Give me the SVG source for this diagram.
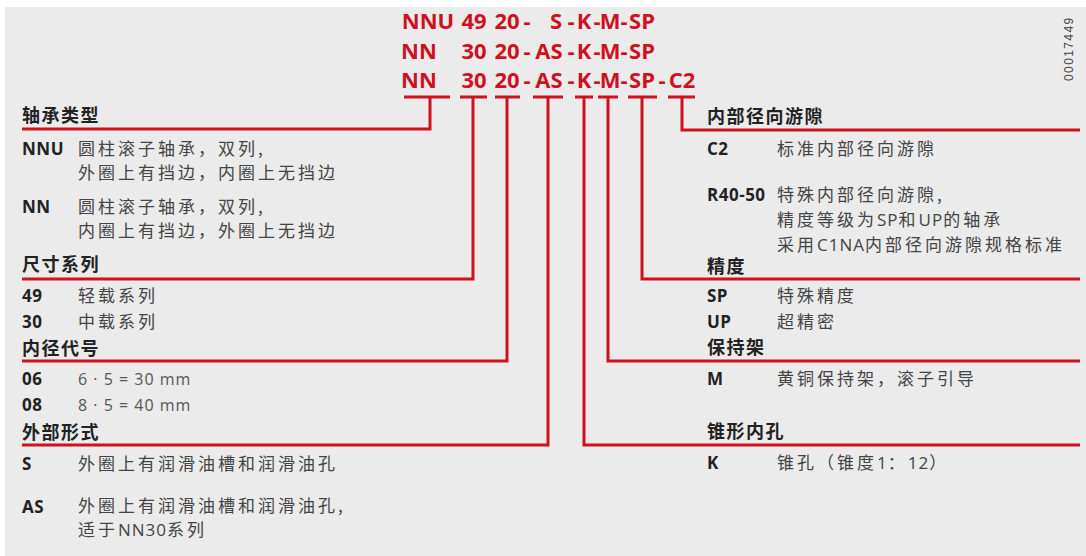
<svg xmlns="http://www.w3.org/2000/svg" width="1086" height="556" viewBox="0 0 1086 556">
<style>
.code{font-family:"Open Sans","Liberation Sans",sans-serif;font-weight:700;font-size:22px;fill:#d0101f;text-anchor:middle}
.hd{font-family:"Noto Sans CJK SC",sans-serif;font-weight:700;font-size:18px;letter-spacing:1.5px;fill:#222}
.key{font-family:"Open Sans","Liberation Sans",sans-serif;font-weight:700;font-size:17px;letter-spacing:0.5px;fill:#222}
.tx{font-family:"Noto Sans CJK SC",sans-serif;font-weight:400;font-size:17px;letter-spacing:3px;fill:#444}
.la{font-family:"Open Sans","Liberation Sans",sans-serif;letter-spacing:1px}
.num{font-family:"Open Sans","Liberation Sans",sans-serif;font-size:16px;letter-spacing:1px;fill:#555}
.ln{fill:none;stroke:#d0101f;stroke-width:3}
.id{font-family:"Liberation Sans",sans-serif;font-size:12px;letter-spacing:1.4px;fill:#444}
</style>
<rect x="5" y="7" width="1081" height="549" fill="#ebebeb"/>
<g id="codes">
<text class="code" x="428" y="29">NNU</text><text class="code" x="474" y="29">49</text><text class="code" x="507" y="29">20</text><text class="code" x="527" y="29">-</text>
<text class="code" x="556" y="29">S</text><text class="code" x="571" y="29">-</text><text class="code" x="584" y="29">K</text><text class="code" x="597" y="29">-</text><text class="code" x="610" y="29">M</text><text class="code" x="624" y="29">-</text><text class="code" x="642" y="29">SP</text>
<text class="code" x="419" y="59">NN</text><text class="code" x="474" y="59">30</text><text class="code" x="507" y="59">20</text><text class="code" x="527" y="59">-</text>
<text class="code" x="549" y="59">AS</text><text class="code" x="571" y="59">-</text><text class="code" x="584" y="59">K</text><text class="code" x="597" y="59">-</text><text class="code" x="610" y="59">M</text><text class="code" x="624" y="59">-</text><text class="code" x="642" y="59">SP</text>
<text class="code" x="419" y="88">NN</text><text class="code" x="474" y="88">30</text><text class="code" x="507" y="88">20</text><text class="code" x="527" y="88">-</text>
<text class="code" x="549" y="88">AS</text><text class="code" x="571" y="88">-</text><text class="code" x="584" y="88">K</text><text class="code" x="597" y="88">-</text><text class="code" x="610" y="88">M</text><text class="code" x="624" y="88">-</text><text class="code" x="642" y="88">SP</text><text class="code" x="662" y="88">-</text><text class="code" x="682" y="88">C2</text>
</g>
<g id="connectors">
<path class="ln" d="M404,97H450M430,97V129H22"/>
<path class="ln" d="M460,97H487M473,97V279H22"/>
<path class="ln" d="M495,97H520M507,97V361H22"/>
<path class="ln" d="M533,97H563M548,97V445H22"/>
<path class="ln" d="M575,97H593M584,97V445H1080"/>
<path class="ln" d="M598,97H618M608,97V361H1080"/>
<path class="ln" d="M628,97H657M642,97V279H1080"/>
<path class="ln" d="M668,97H695M682,97V130H1080"/>
</g>
<g id="bearing-type">
<text class="hd" x="22" y="122">轴承类型</text>
<text class="key" x="22" y="155">NNU</text>
<text class="tx" x="78" y="155">圆柱滚子轴承，双列,<tspan x="78" y="179">外圈上有挡边，内圈上无挡边</tspan></text>
<text class="key" x="22" y="213">NN</text>
<text class="tx" x="78" y="213">圆柱滚子轴承，双列,<tspan x="78" y="237">内圈上有挡边，外圈上无挡边</tspan></text>
</g>
<g id="dimension-series">
<text class="hd" x="22" y="271">尺寸系列</text>
<text class="key" x="22" y="302">49</text><text class="tx" x="78" y="302">轻载系列</text>
<text class="key" x="22" y="328">30</text><text class="tx" x="78" y="328">中载系列</text>
</g>
<g id="bore-code">
<text class="hd" x="22" y="355">内径代号</text>
<text class="key" x="22" y="385">06</text><text class="num" x="78" y="385">6 · 5 = 30 mm</text>
<text class="key" x="22" y="411">08</text><text class="num" x="78" y="411">8 · 5 = 40 mm</text>
</g>
<g id="outer-design">
<text class="hd" x="22" y="439">外部形式</text>
<text class="key" x="22" y="470">S</text><text class="tx" x="78" y="470">外圈上有润滑油槽和润滑油孔</text>
<text class="key" x="22" y="513">AS</text>
<text class="tx" x="78" y="512">外圈上有润滑油槽和润滑油孔,</text>
<text class="tx" x="78" y="536">适于<tspan class="la">NN30</tspan>系列</text>
</g>
<g id="clearance">
<text class="hd" x="707" y="123">内部径向游隙</text>
<text class="key" x="707" y="155">C2</text><text class="tx" x="777" y="155">标准内部径向游隙</text>
<text class="key" x="707" y="201">R40-50</text>
<text class="tx" x="777" y="201">特殊内部径向游隙,<tspan x="777" y="226">精度等级为</tspan><tspan class="la">SP</tspan>和<tspan class="la">UP</tspan>的轴承<tspan x="777" y="251">采用</tspan><tspan class="la">C1NA</tspan>内部径向游隙规格标准</text>
</g>
<g id="precision">
<text class="hd" x="707" y="273">精度</text>
<text class="key" x="707" y="302">SP</text><text class="tx" x="777" y="302">特殊精度</text>
<text class="key" x="707" y="328">UP</text><text class="tx" x="777" y="328">超精密</text>
</g>
<g id="cage">
<text class="hd" x="707" y="354">保持架</text>
<text class="key" x="707" y="385">M</text><text class="tx" x="777" y="385">黄铜保持架，滚子引导</text>
</g>
<g id="tapered-bore">
<text class="hd" x="707" y="438">锥形内孔</text>
<text class="key" x="707" y="469">K</text><text class="tx" x="777" y="469">锥孔（锥度<tspan class="la">1</tspan>：<tspan class="la">12</tspan>）</text>
</g>
<text class="id" x="1073" y="81" transform="rotate(-90 1073 81)">00017449</text>
</svg>
